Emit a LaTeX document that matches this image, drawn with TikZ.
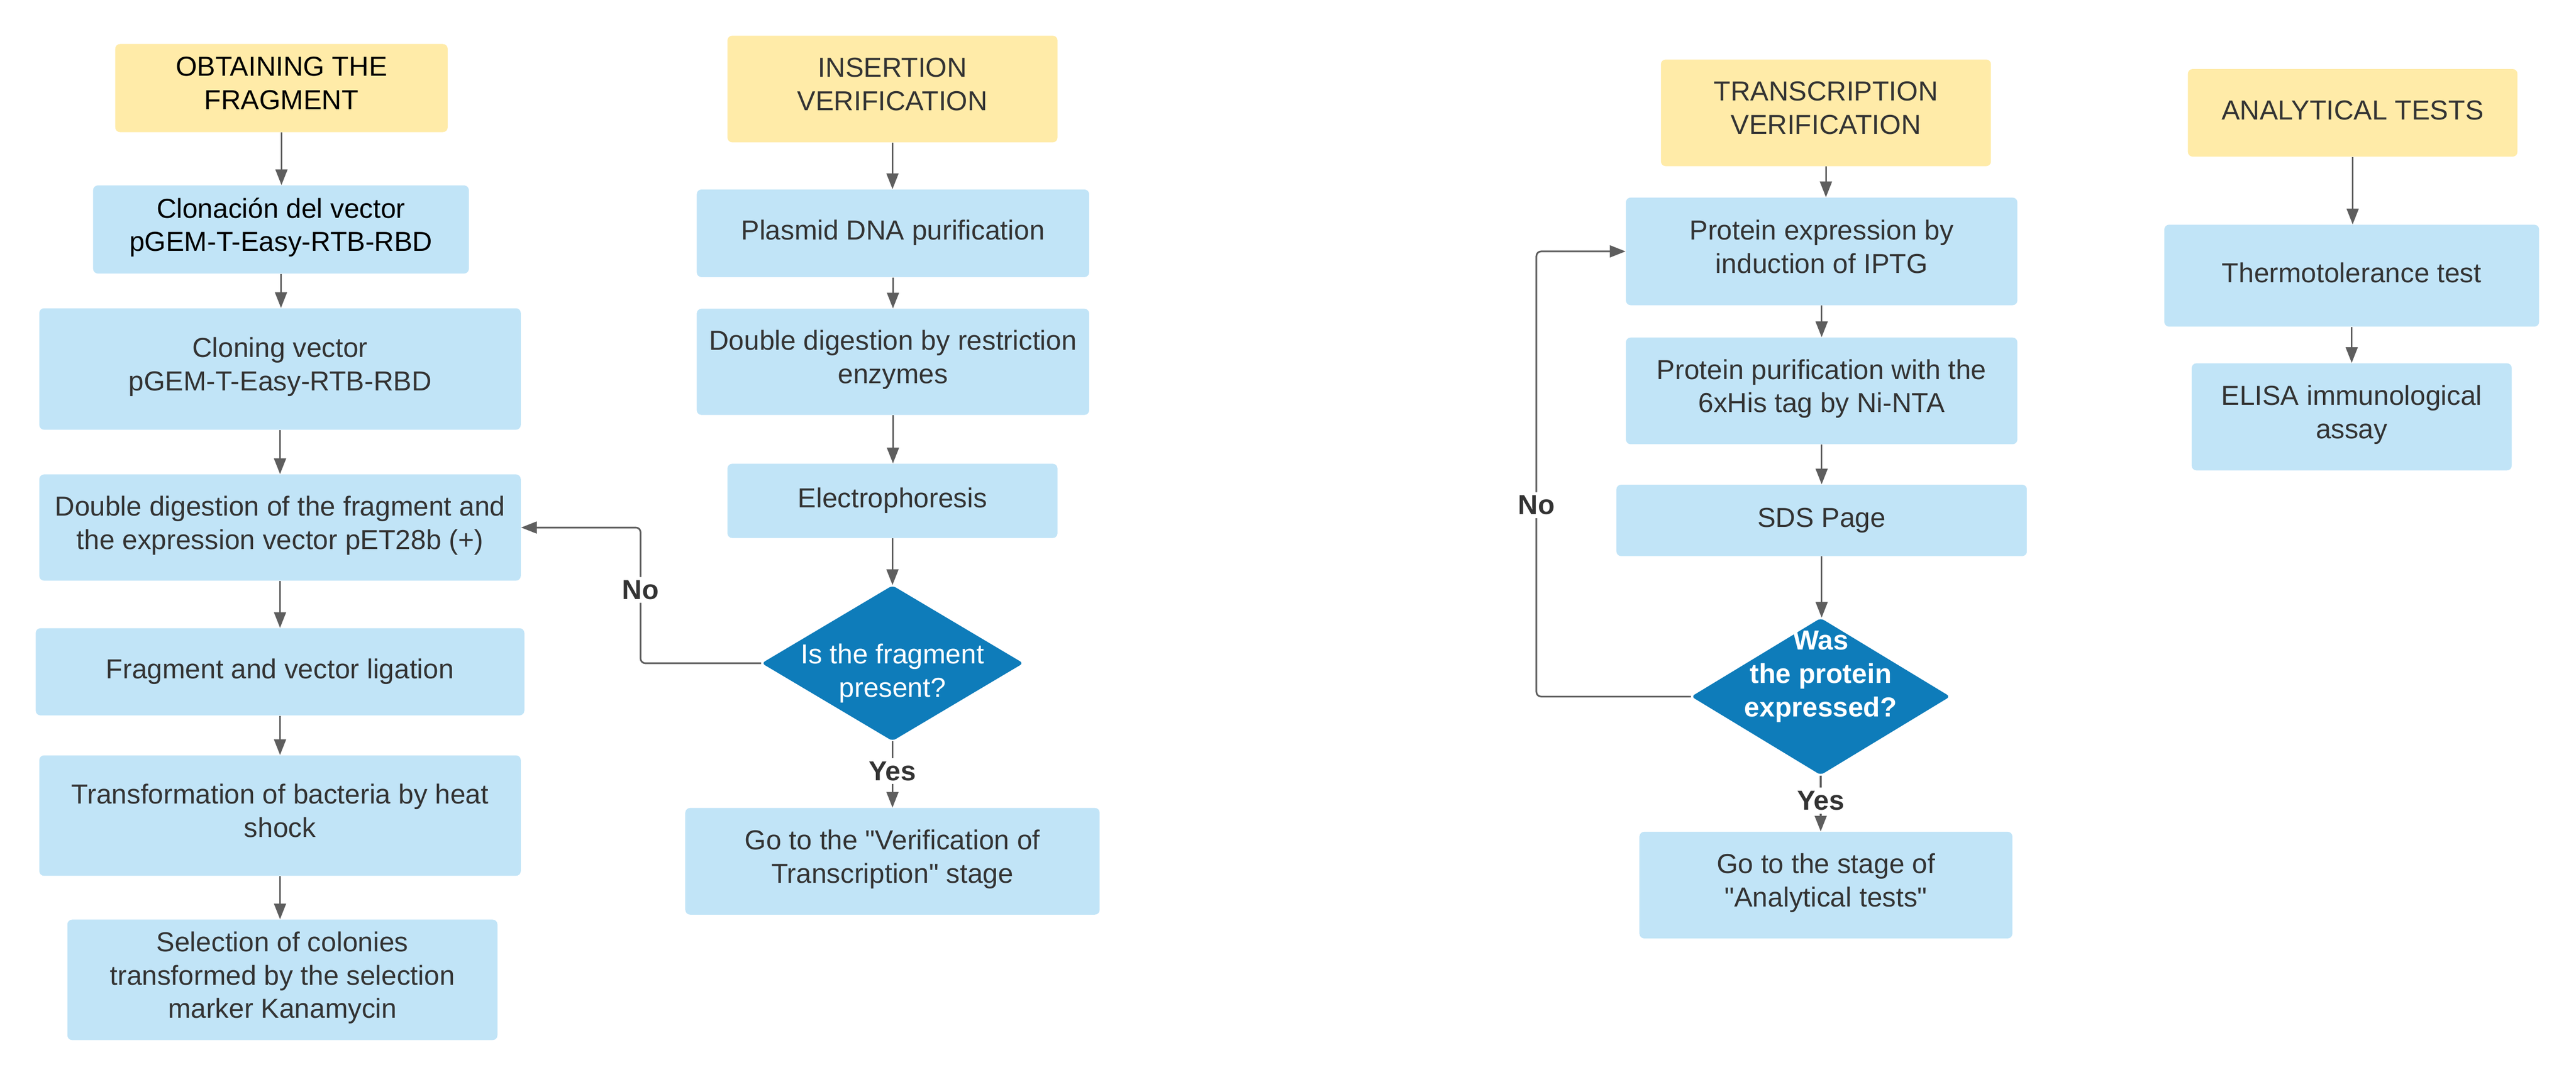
\documentclass[tikz,border=0pt]{standalone}
\usepackage{fontspec}
\setmainfont{Liberation Sans}
\usepackage{tikz, xcolor}
\usetikzlibrary{calc, shapes.geometric, arrows.meta}

\definecolor{headyellow}{HTML}{FFEBA8}
\definecolor{boxblue}{HTML}{C1E4F7}
\definecolor{decblue}{HTML}{0E7CBA}
\definecolor{txtgray}{HTML}{333333}
\definecolor{linegray}{HTML}{5E5E5E}
\newcommand{\boxfont}{\fontsize{16.4}{19.9}\selectfont}

\begin{document}
\begin{tikzpicture}[
	head/.style={rectangle, rounded corners=0.1cm, fill=headyellow, text=txtgray, align=center, inner sep=0pt, font=\boxfont, execute at begin node=\strut, execute at end node=\strut},
	box/.style={rectangle, rounded corners=0.1cm, fill=boxblue, text=txtgray, align=center, inner sep=0pt, font=\boxfont, execute at begin node=\strut, execute at end node=\strut},
	decision/.style={diamond, rounded corners=0.08cm, fill=decblue, inner sep=0pt, minimum width=5.5cm, minimum height=3.27cm},
	dectext/.style={text=white, align=center, font=\boxfont},
	lbl/.style={fill=white, text=txtgray, inner sep=2pt, font=\boxfont\bfseries},
	arr/.style={draw=linegray, line width=1pt, -{Triangle[length=0.33cm, width=0.25cm]}}
	]
				\useasboundingbox (0,0) rectangle (54.09,-22.61);
				
				% Obtaining the fragment
				\node[head, text=black, minimum width=6.98cm, minimum height=1.85cm] (hA) at (5.91,-1.85) {OBTAINING THE\\FRAGMENT};
				\node[box, text=black, minimum width=7.89cm, minimum height=1.85cm] (c1) at (5.90,-4.82) {Clonación del vector\\pGEM-T-Easy-RTB-RBD};
				\node[box, minimum width=10.11cm, minimum height=2.55cm] (c2) at (5.88,-7.75) {Cloning vector\\pGEM-T-Easy-RTB-RBD};
				\node[box, minimum width=10.11cm, minimum height=2.23cm] (c3) at (5.88,-11.08) {Double digestion of the fragment and\\the expression vector pET28b (+)};
				\node[box, minimum width=10.26cm, minimum height=1.83cm] (c4) at (5.88,-14.11) {Fragment and vector ligation};
				\node[box, minimum width=10.11cm, minimum height=2.53cm] (c5) at (5.88,-17.13) {Transformation of bacteria by heat\\shock};
				\node[box, minimum width=9.03cm, minimum height=2.53cm] (c6) at (5.93,-20.58) {Selection of colonies\\transformed by the selection\\marker Kanamycin};
				
				% Insertion verification
				\node[head, minimum width=6.93cm, minimum height=2.24cm] (hB) at (18.74,-1.87) {INSERTION\\VERIFICATION};
				\node[box, minimum width=8.24cm, minimum height=1.84cm] (d1) at (18.75,-4.90) {Plasmid DNA purification};
				\node[box, minimum width=8.24cm, minimum height=2.23cm] (d2) at (18.75,-7.60) {Double digestion by restriction\\enzymes};
				\node[box, minimum width=6.93cm, minimum height=1.56cm] (d3) at (18.74,-10.52) {Electrophoresis};
				\node[decision] (dec1) at (18.74,-13.93) {};
				\node[dectext] (dec1txt) at (18.74,-14.14) {Is the fragment\\present?};
				\node[box, minimum width=8.70cm, minimum height=2.24cm] (go1) at (18.74,-18.09) {Go to the \textquotedbl Verification of\\Transcription\textquotedbl\ stage};
				
				% Transcription verification
				\node[head, minimum width=6.93cm, minimum height=2.24cm] (hC) at (38.34,-2.37) {TRANSCRIPTION\\VERIFICATION};
				\node[box, minimum width=8.22cm, minimum height=2.26cm] (e1) at (38.25,-5.28) {Protein expression by\\induction of IPTG};
				\node[box, minimum width=8.22cm, minimum height=2.24cm] (e2) at (38.25,-8.21) {Protein purification with the\\6xHis tag by Ni-NTA};
				\node[box, minimum width=8.62cm, minimum height=1.50cm] (e3) at (38.25,-10.93) {SDS Page};
				\node[decision, minimum width=5.44cm, minimum height=3.30cm] (dec2) at (38.23,-14.63) {};
				\node[dectext, font=\boxfont\bfseries] (dec2txt) at (38.23,-14.21) {Was\\the protein\\expressed?};
				\node[box, minimum width=7.83cm, minimum height=2.24cm] (go2) at (38.34,-18.59) {Go to the stage of\\\textquotedbl Analytical tests\textquotedbl};
				
				% Analytical tests
				\node[head, minimum width=6.92cm, minimum height=1.84cm] (hD) at (49.40,-2.37) {ANALYTICAL TESTS};
				\node[box, minimum width=7.87cm, minimum height=2.14cm] (f1) at (49.38,-5.79) {Thermotolerance test};
				\node[box, minimum width=6.72cm, minimum height=2.25cm] (f2) at (49.38,-8.755) {ELISA immunological\\assay};
				
				% Straight arrows
				\foreach \a/\b in {hA/c1, c1/c2, c2/c3, c3/c4, c4/c5, c5/c6, hB/d1, d1/d2, d2/d3, d3/dec1, hC/e1, e1/e2, e2/e3, e3/dec2, hD/f1, f1/f2}
				\draw[arr] (\a.south) -- (\a.south |- \b.north);
				
				% Yes branches
				\draw[arr] (dec1.south) -- node[lbl, pos=0.45]{Yes} (dec1.south |- go1.north);
				\draw[arr] (dec2.south) -- node[lbl, pos=0.45]{Yes} (dec2.south |- go2.north);
				
				% No branches
				\coordinate (noA) at (13.45,-13.93);
				\coordinate (noB) at (32.26,-14.63);
				\draw[arr, rounded corners=0.1cm] (dec1.west) -- (noA) |- node[lbl, pos=0.27]{No} (c3.east);
				\draw[arr, rounded corners=0.1cm] (dec2.west) -- (noB) |- node[lbl, pos=0.215]{No} (e1.west);
			\end{tikzpicture}
\end{document}
